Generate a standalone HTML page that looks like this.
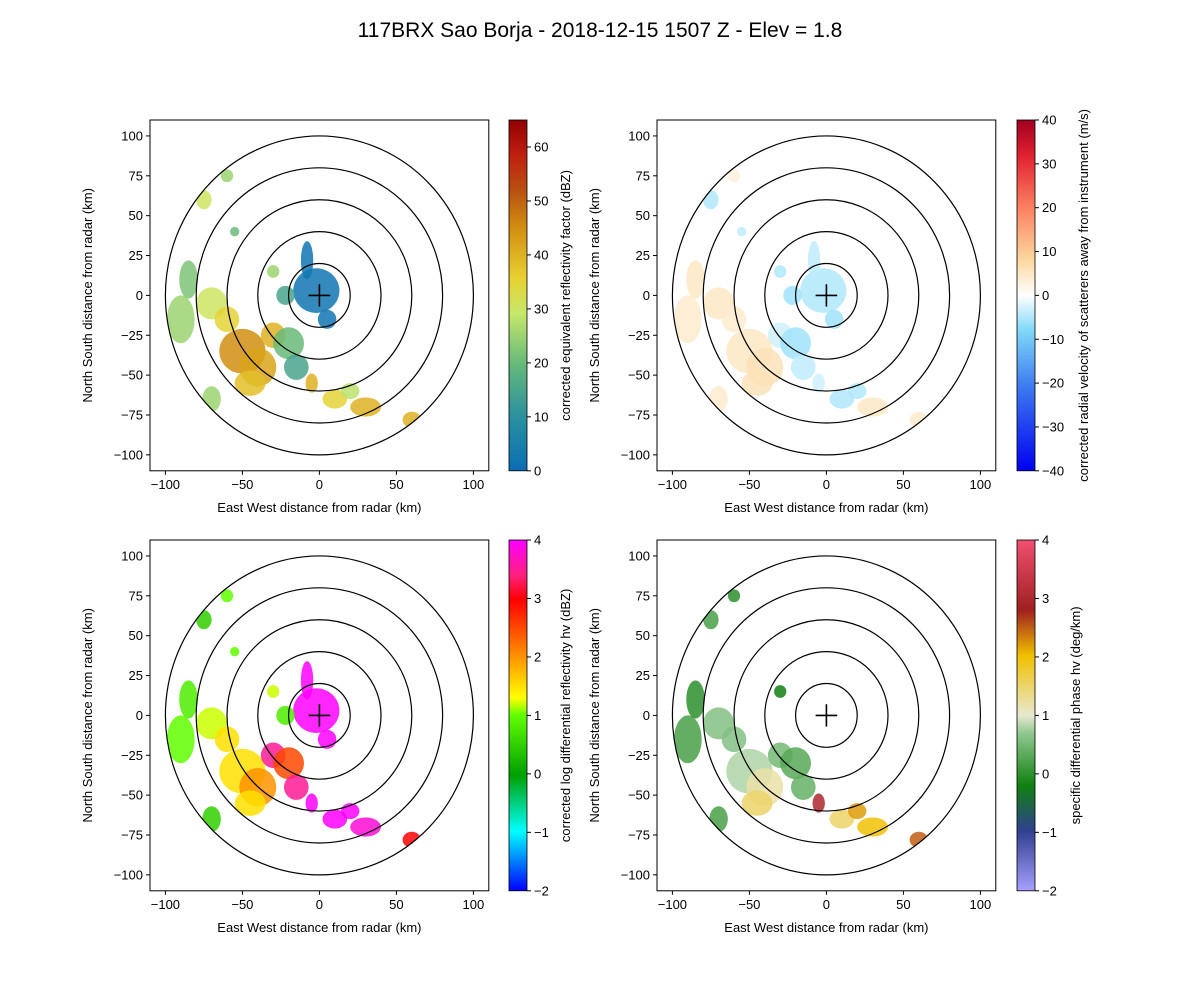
<!DOCTYPE html>
<html><head><meta charset="utf-8"><style>
body{margin:0;background:#fff}
svg text{font-family:"Liberation Sans","DejaVu Sans",sans-serif;fill:#000}
</style></head><body>
<svg id="fig" width="1200" height="1000" xmlns="http://www.w3.org/2000/svg">
<rect width="1200" height="1000" fill="#fff"/>
<text x="600" y="37" font-size="21" text-anchor="middle">117BRX Sao Borja - 2018-12-15 1507 Z -  Elev = 1.8</text>
</svg>
<script>
// echo blob data (km): centers, radii
const blobX=[-2,-8,5,-50,-40,-30,-90,-70,-20,-15,10,30,60,-5,-75,-60,-55,-30,-22,-70,-85,-45,20,-60];
const blobY=[3,22,-15,-35,-45,-25,-15,-5,-30,-45,-65,-70,-78,-55,60,75,40,15,0,-65,10,-55,-60,-15];
const blobRX=[15,4,6,15,12,8,9,10,10,8,8,10,6,4,5,4,3,4,6,6,6,10,6,8];
const blobRY=[14,12,6,14,12,8,15,10,10,8,6,6,5,6,6,4,3,4,6,8,12,8,5,8];
const reflValues=[2,2,2,45,42,40,25,30,20,15,35,40,40,40,30,25,20,25,15,25,22,38,28,35];
const velValues=[-5,-4,-6,5,6,-3,4,5,-6,-4,-5,5,4,-3,-5,3,-4,-5,-6,4,5,6,-5,4];
const zdrValues=[4,4,4,1.5,2,3.5,1,1.2,2.5,3.5,4,3.8,3,4,0.5,1,1,1.2,0.8,0.5,0.8,1.5,4,1.5];
const kdpValues=[null,null,null,0.8,1.2,0.5,0.2,0.6,0.3,0.4,1.5,2,2.5,3,0.2,0,null,-0.2,null,0.2,0,1.5,2.2,0.6];
const ringRadii=[20,40,60,80,100];
const axisTicks=[-100,-75,-50,-25,0,25,50,75,100];
const xTicks=[-100,-50,0,50,100];
const cbTicks1=[0,10,20,30,40,50,60];
const cbTicks2=[-40,-30,-20,-10,0,10,20,30,40];
const cbTicks3=[-2,-1,0,1,2,3,4];
const cbTicks4=[-2,-1,0,1,2,3,4];

const NS='http://www.w3.org/2000/svg';
const svg=document.getElementById('fig');
function mk(tag,attrs,parent){const e=document.createElementNS(NS,tag);for(const k in attrs)e.setAttribute(k,attrs[k]);(parent||svg).appendChild(e);return e;}
function hex(c){return [parseInt(c.slice(1,3),16),parseInt(c.slice(3,5),16),parseInt(c.slice(5,7),16)];}
function cmap(stops,t){t=Math.max(0,Math.min(1,t));for(let i=0;i<stops.length-1;i++){const a=stops[i],b=stops[i+1];if(t<=b[0]){const f=(t-a[0])/(b[0]-a[0]||1);const ca=hex(a[1]),cb=hex(b[1]);return 'rgb('+ca.map((v,j)=>Math.round(v+(cb[j]-v)*f)).join(',')+')';}}return stops[stops.length-1][1];}

const panels=[
 {key:'refl',L:150,T:120,cbx:509,vmin:0,vmax:65,ticks:cbTicks1,vals:reflValues,label:'corrected equivalent reflectivity factor (dBZ)',labX:570,
  stops:[[0,'#0a6eb4'],[0.15,'#2a8fa0'],[0.3,'#63b87a'],[0.45,'#c8e86a'],[0.55,'#e8d030'],[0.7,'#d08a10'],[0.8,'#b85010'],[0.9,'#c02010'],[1,'#900000']]},
 {key:'vel',L:657,T:120,cbx:1017,vmin:-40,vmax:40,ticks:cbTicks2,vals:velValues,label:'corrected radial velocity of scatterers away from instrument (m/s)',labX:1088,
  stops:[[0,'#0000f0'],[0.25,'#4080f0'],[0.4,'#80d8f8'],[0.5,'#ffffff'],[0.6,'#fcd8a0'],[0.75,'#fc8060'],[0.9,'#e02030'],[1,'#a00020']]},
 {key:'zdr',L:150,T:540,cbx:509,vmin:-2,vmax:4,ticks:cbTicks3,vals:zdrValues,label:'corrected log differential reflectivity hv (dBZ)',labX:570,
  stops:[[0,'#0000ff'],[0.17,'#00ffff'],[0.33,'#00a000'],[0.5,'#60ff00'],[0.55,'#ffff00'],[0.67,'#ff9000'],[0.83,'#ff0000'],[0.9,'#ff2080'],[1,'#ff00ff']]},
 {key:'kdp',L:657,T:540,cbx:1017,vmin:-2,vmax:4,ticks:cbTicks4,vals:kdpValues,label:'specific differential phase hv (deg/km)',labX:1080,
  stops:[[0,'#a8a0ff'],[0.17,'#304090'],[0.3,'#108010'],[0.45,'#90c890'],[0.5,'#e8e8d0'],[0.67,'#f0c000'],[0.8,'#a02020'],[1,'#f05070']]}
];
const W=338.8,H=350.8;
panels.forEach((p,pi)=>{
  const g=mk('g',{});
  
  
  const sx=v=>p.L+(v+110)/220*W, sy=v=>p.T+(110-v)/220*H;
  const cid='clip'+pi;
  const cp=mk('clipPath',{id:cid},g);
  mk('ellipse',{cx:sx(0),cy:sy(0),rx:100*W/220,ry:100*H/220},cp);
  const dg=mk('g',{'clip-path':'url(#'+cid+')'},g);
  blobX.forEach((bx,i)=>{
    const v=p.vals[i]; if(v===null)return;
    const e=mk('ellipse',{cx:sx(bx),cy:sy(blobY[i]),rx:blobRX[i]*W/220,ry:blobRY[i]*H/220,fill:cmap(p.stops,(v-p.vmin)/(p.vmax-p.vmin)),opacity:0.85},dg);
    
    
  });
  ringRadii.forEach(r=>{
    const c=mk('ellipse',{cx:sx(0),cy:sy(0),rx:r*W/220,ry:r*H/220,fill:'none',stroke:'#000','stroke-width':1.2},g);
    
    
  });
  mk('line',{x1:sx(-7),x2:sx(7),y1:sy(0),y2:sy(0),stroke:'#000','stroke-width':1.6},g);
  mk('line',{x1:sx(0),x2:sx(0),y1:sy(-7),y2:sy(7),stroke:'#000','stroke-width':1.6},g);
  const fr=mk('rect',{x:p.L,y:p.T,width:W,height:H,fill:'none',stroke:'#000','stroke-width':1},g);
  
  
  xTicks.forEach(t=>{mk('line',{x1:sx(t),x2:sx(t),y1:p.T+H,y2:p.T+H+4,stroke:'#000'},g);
    const tx=mk('text',{x:sx(t),y:p.T+H+18,'font-size':13,'text-anchor':'middle'},g);tx.textContent=t<0?'\u2212'+(-t):t;});
  axisTicks.forEach(t=>{mk('line',{x1:p.L-4,x2:p.L,y1:sy(t),y2:sy(t),stroke:'#000'},g);
    const tx=mk('text',{x:p.L-7,y:sy(t)+4.5,'font-size':13,'text-anchor':'end'},g);tx.textContent=t<0?'\u2212'+(-t):t;});
  const xl=mk('text',{x:p.L+W/2,y:p.T+H+41,'font-size':13,'text-anchor':'middle'},g);xl.textContent='East West distance from radar (km)';
  
  const yl=mk('text',{x:0,y:0,'font-size':13,'text-anchor':'middle',transform:`translate(${p.L-58},${p.T+H/2}) rotate(-90)`},g);yl.textContent='North South distance from radar (km)';
  
  const gid='grad'+pi;
  const lg=mk('linearGradient',{id:gid,x1:0,y1:1,x2:0,y2:0},g);
  p.stops.forEach(s=>mk('stop',{offset:s[0],'stop-color':s[1]},lg));
  const cb=mk('rect',{x:p.cbx,y:p.T,width:18,height:H,fill:'url(#'+gid+')',stroke:'#000','stroke-width':0.8},g);
  
  p.ticks.forEach(t=>{const y=p.T+H-(t-p.vmin)/(p.vmax-p.vmin)*H;
    mk('line',{x1:p.cbx+18,x2:p.cbx+22,y1:y,y2:y,stroke:'#000'},g);
    const tx=mk('text',{x:p.cbx+25,y:y+4.5,'font-size':13},g);tx.textContent=t<0?'\u2212'+(-t):t;});
  const cl=mk('text',{x:0,y:0,'font-size':13,'text-anchor':'middle',transform:`translate(${p.labX},${p.T+H/2}) rotate(-90)`},g);cl.textContent=p.label;
  
});
</script>
</body></html>
